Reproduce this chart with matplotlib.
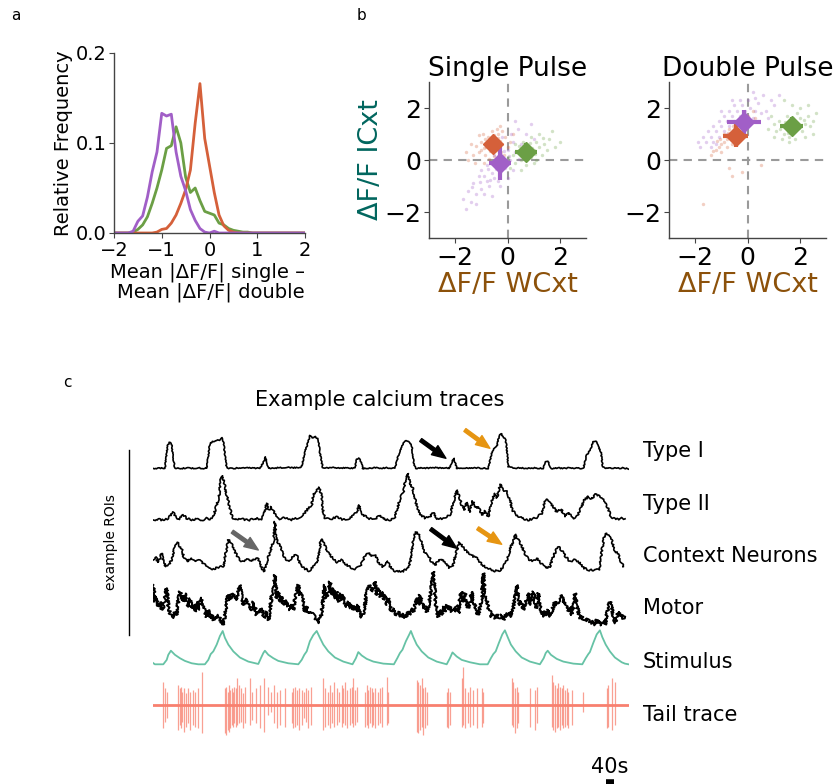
import numpy as np
import matplotlib
matplotlib.use("Agg")
import matplotlib.pyplot as plt

# ---------------------------------------------------------------- data
# (a) distribution of mean |dF/F| differences (single - double pulse)
hist_bins = [-2.0, -1.9, -1.8, -1.7, -1.6, -1.5, -1.4, -1.3, -1.2, -1.1, -1.0,
             -0.9, -0.8, -0.7, -0.6, -0.5, -0.4, -0.3, -0.2, -0.1, 0.0,
             0.1, 0.2, 0.3, 0.4, 0.5, 0.6, 0.7, 0.8, 0.9, 1.0,
             1.1, 1.2, 1.3, 1.4, 1.5, 1.6, 1.7, 1.8, 1.9, 2.0]
hist_orange = [0, 0, 0, 0, 0, 0, 0, 0, 0, 0.001, 0.004,
               0.005, 0.011, 0.020, 0.033, 0.048, 0.070, 0.122, 0.166, 0.105, 0.075,
               0.045, 0.020, 0.008, 0.003, 0.001, 0, 0, 0, 0, 0,
               0, 0, 0, 0, 0, 0, 0, 0, 0, 0]
hist_green = [0, 0, 0, 0, 0.001, 0.004, 0.009, 0.018, 0.033, 0.050, 0.070,
              0.094, 0.097, 0.118, 0.100, 0.062, 0.045, 0.050, 0.036, 0.024, 0.022,
              0.020, 0.011, 0.009, 0.005, 0.003, 0.002, 0.001, 0.001, 0, 0,
              0, 0, 0, 0, 0, 0, 0, 0, 0, 0]
hist_purple = [0, 0, 0, 0, 0.002, 0.013, 0.019, 0.040, 0.068, 0.090, 0.133,
               0.130, 0.132, 0.090, 0.063, 0.047, 0.026, 0.014, 0.005, 0.001, 0.0,
               0.002, 0, 0, 0, 0, 0, 0, 0, 0, 0,
               0, 0, 0, 0, 0, 0, 0, 0, 0, 0]

# (b) per-ROI responses (WCxt, ICxt) and group means +- spread
single_orange = [(-0.6, 0.6), (-0.5, 0.7), (-0.7, 0.5), (-0.4, 0.55), (-0.8, 0.65), (-0.55, 0.85),
                 (-0.65, 0.35), (-0.3, 0.75), (-0.9, 0.45), (-0.45, 0.4), (-1.0, 0.7), (-0.75, 0.9),
                 (-0.2, 0.6), (-0.35, 1.0), (-1.1, 0.3), (-0.6, 1.1), (-0.85, 0.2), (-0.25, 0.3),
                 (-1.2, 0.55), (-0.5, 0.15), (-0.1, 0.9), (-0.95, 1.0), (-1.3, 0.2), (-0.7, 0.05),
                 (0.0, 0.5), (-1.4, 0.6), (-0.4, 1.2), (-1.5, 0.0), (-0.15, 0.2), (-1.1, 0.95),
                 (-0.55, 0.5), (-0.65, 0.75), (-0.45, 0.65), (-0.75, 0.55), (-0.35, 0.45), (-0.85, 0.8),
                 (-0.5, 0.95), (-1.0, 0.4), (-0.2, 1.1), (0.1, 0.7), (-1.6, 0.3), (-1.25, -0.1),
                 (0.2, 1.0), (-0.3, 1.3), (-0.9, -0.1), (-0.62, 0.72), (-0.48, 0.58), (-0.72, 0.62),
                 (-0.58, 0.45), (-0.38, 0.85), (-0.82, 0.5)]
single_purple = [(-0.4, -0.2), (-0.2, 0.1), (-0.6, -0.5), (-0.8, -0.8), (-1.0, -1.1), (-1.2, -1.3),
                 (-1.4, -1.6), (-1.6, -1.9), (-1.3, -0.9), (-1.1, -0.6), (-0.9, -1.3), (-0.7, -1.0),
                 (-0.5, -0.7), (-0.3, -0.5), (-0.1, -0.3), (0.1, 0.0), (0.3, 0.3), (0.5, 0.6),
                 (0.7, 1.0), (0.4, 1.2), (0.2, 0.7), (0.0, 0.4), (-0.2, 0.9), (-0.5, 0.2),
                 (-0.8, -0.2), (-1.0, -0.4), (-1.5, -1.2), (-1.7, -1.5), (-1.2, -1.7), (-0.6, -1.4),
                 (-0.3, -1.0), (0.0, -0.7), (0.2, -0.4), (0.6, 0.2), (0.8, 0.5), (1.0, 0.8),
                 (0.9, 1.4), (0.3, 1.5), (-0.9, -0.6), (-0.45, -0.35), (-0.25, -0.05), (-0.65, -0.75),
                 (-1.05, -0.85), (-0.15, 0.35), (0.05, 0.15), (-0.35, -0.8), (-0.75, -0.35),
                 (-1.35, -1.05), (0.45, 0.05), (0.15, 1.0)]
single_green = [(0.8, 0.3), (0.6, 0.2), (1.0, 0.4), (0.7, 0.5), (0.9, 0.1), (1.2, 0.5), (0.5, 0.0),
                (1.1, 0.7), (1.4, 0.6), (0.4, 0.3), (0.3, -0.1), (1.3, 0.2), (1.6, 0.8), (0.6, 0.7),
                (0.9, 0.9), (0.2, 0.2), (1.5, 0.4), (0.7, -0.2), (1.0, -0.1), (1.8, 0.5), (0.1, -0.3),
                (1.2, 1.0), (0.45, 0.55), (0.85, 0.65), (1.05, 0.25), (0.65, 0.05), (1.35, 0.85),
                (0.0, 0.1), (1.7, 1.1), (0.3, 0.6), (2.0, 0.7), (0.5, -0.4), (1.1, 0.0), (0.95, 0.45),
                (0.75, 0.35)]
double_purple = [(-1.8, 0.5), (-1.6, 0.7), (-1.4, 0.9), (-1.2, 1.1), (-1.0, 1.3), (-0.8, 1.5),
                 (-0.6, 1.7), (-0.4, 1.9), (-0.2, 2.1), (0.0, 2.3), (0.3, 2.4), (0.6, 2.5), (0.9, 2.3),
                 (1.2, 2.5), (-1.5, 1.1), (-1.3, 1.3), (-1.1, 1.5), (-0.9, 1.7), (-0.7, 1.9),
                 (-0.5, 2.1), (-0.3, 2.3), (-1.7, 0.9), (-1.9, 0.7), (-1.3, 0.7), (-1.1, 0.9),
                 (-0.9, 1.1), (-0.7, 1.3), (-0.5, 1.5), (-0.3, 1.7), (-0.1, 1.9), (0.1, 2.0),
                 (0.3, 1.9), (0.5, 1.8), (0.7, 1.9), (0.4, 2.2), (-0.2, 1.4), (0.0, 1.6), (-0.8, 1.0),
                 (-1.4, 0.5), (-0.15, 1.2), (0.2, 1.6), (-0.6, 2.3), (-1.0, 1.9), (0.8, 1.6),
                 (-0.4, 1.1), (0.2, 2.6), (-1.2, 0.6), (1.0, 2.1), (-0.65, 1.45), (-0.35, 1.55)]
double_orange = [(-0.6, 1.0), (-0.5, 1.1), (-0.7, 0.9), (-0.4, 1.2), (-0.8, 0.8), (-0.9, 0.7),
                 (-1.0, 0.6), (-1.1, 0.5), (-1.2, 0.4), (-1.3, 0.35), (-0.3, 1.3), (-0.2, 1.4),
                 (-0.1, 1.6), (0.0, 1.7), (0.2, 1.9), (-0.5, 0.8), (-0.7, 1.2), (-0.8, 0.5),
                 (-0.4, 0.9), (-0.6, 0.6), (-0.3, 1.0), (-0.9, 1.0), (-1.0, 0.3), (-0.2, 1.1),
                 (0.1, 1.4), (-1.4, 0.2), (-0.55, 1.3), (-0.75, 1.05), (-0.45, 0.95), (-0.65, 0.85),
                 (-0.35, 1.15), (-0.85, 0.95), (-1.05, 0.8), (-0.15, 1.25), (0.05, 1.5),
                 (-1.15, 0.75), (-0.25, 1.55), (0.3, 1.6), (-0.7, -0.3), (-0.6, -0.6),
                 (-1.7, -1.7), (-0.2, -0.45), (0.5, -0.2)]
double_green = [(1.7, 1.3), (1.5, 1.2), (1.9, 1.4), (1.6, 1.5), (1.8, 1.1), (2.0, 1.6), (1.4, 1.0),
                (2.2, 1.4), (1.3, 1.3), (2.1, 1.1), (1.6, 0.9), (1.9, 1.8), (1.2, 1.5), (2.3, 1.7),
                (1.1, 1.1), (2.4, 1.3), (1.5, 1.7), (1.8, 0.8), (1.0, 1.4), (2.0, 2.0), (2.5, 1.5),
                (1.3, 0.8), (0.9, 1.7), (2.2, 0.9), (1.7, 2.1), (1.45, 1.45), (1.75, 1.55),
                (1.95, 1.25), (1.55, 1.05), (2.15, 1.55), (1.25, 1.2), (1.65, 1.15), (1.85, 1.35),
                (0.8, 1.2), (2.6, 1.8), (1.4, 2.3), (2.3, 2.1), (1.0, 0.9), (1.6, 0.7), (2.5, 1.0)]
# group means: (x, y, xerr, yerr)
single_means = {"orange": (-0.55, 0.6, 0.29, 0.32),
                "purple": (-0.28, -0.13, 0.43, 0.64),
                "green": (0.72, 0.32, 0.42, 0.32)}
double_means = {"orange": (-0.45, 0.94, 0.48, 0.43),
                "purple": (-0.13, 1.47, 0.66, 0.46),
                "green": (1.7, 1.3, 0.44, 0.34)}

# (c) example traces: (time s, dF/F in display units)
type1_trace = [(0, 0.3), (20, 0.0), (40, 0.4), (62, 0.0), (76, 23), (85, 26), (95, 25), (104, 10),
               (112, 0.3), (140, 0.0), (170, 0.5), (200, 0.2), (230, 0.6), (255, 0.1), (271, 0.0),
               (279, 13), (287, 25), (300, 27), (321, 28), (335, 28.5), (349, 30.5), (356, 26),
               (362, 13), (371, 0.5), (400, 0.0), (430, 0.6), (460, 0.3), (490, 0.8), (515, 0.2),
               (537, 0.3), (554, 6.5), (566, 11.5), (579, 0.2), (610, 0.5), (640, 0.8), (670, 1.2),
               (700, 0.7), (730, 1.0), (746, 1.7), (762, 16.7), (779, 26.7), (787, 33), (800, 31),
               (815, 32), (829, 29), (837, 16), (851, 1.0), (880, 0.5), (910, 0.9), (940, 0.3),
               (970, 0.8), (995, 0.4), (1012, 0.2), (1021, 9.3), (1032, 10), (1046, 6), (1051, 0.0),
               (1080, 0.4), (1110, 0.8), (1140, 0.3), (1170, 0.7), (1195, 0.4), (1212, 0.0),
               (1229, 12.7), (1246, 22.7), (1262, 27.7), (1275, 27), (1287, 26), (1296, 22.7),
               (1307, 4.3), (1317, 0.0), (1350, 0.6), (1380, 0.3), (1410, 0.9), (1440, 0.4),
               (1470, 0.5), (1484, 0.0), (1496, 6), (1507, 10.3), (1521, 0.0), (1550, 0.6),
               (1580, 0.2), (1610, 0.8), (1645, 0.3), (1679, 0.2), (1696, 15), (1712, 21),
               (1721, 21.7), (1732, 31.7), (1742, 35), (1754, 31.7), (1766, 28.3), (1774, 15),
               (1779, 1.7), (1810, 0.3), (1840, 0.7), (1870, 0.2), (1900, 0.6), (1930, 0.3),
               (1954, 0.2), (1966, 6.7), (1976, 7.7), (1987, 2.3), (1996, 0.0), (2030, 0.5),
               (2060, 0.2), (2090, 0.7), (2120, 0.3), (2154, 0.1), (2171, 13.3), (2187, 18.3),
               (2204, 26.7), (2216, 27.7), (2229, 21.7), (2242, 16.7), (2251, 1.7), (2262, 0.0),
               (2290, 0.6), (2320, 0.1), (2350, 0.5), (2380, -0.2)]
type2_trace = [(4, 0), (29, 0.7), (54, -0.3), (79, 1.7), (104, 7.7), (116, 2.3), (129, 0.3), (154, 5),
               (171, 1.7), (196, 0), (221, 1), (246, -0.3), (271, 1.7), (287.5, 1), (304, 3.3),
               (321, 15), (332.5, 23.3), (342.5, 41.7), (349, 44.3), (359, 36.7), (371, 25),
               (387.5, 11.7), (399, 2.3), (412.5, 0), (446, 1), (479, -0.3), (512.5, 1.7),
               (546, 0.7), (559, 6.7), (571, 16.7), (582.5, 10), (592.5, 13.3), (604, 9),
               (621, 4.3), (637.5, 1), (662.5, 2.3), (696, 0.3), (729, 2.3), (754, 5), (779, 11.7),
               (796, 15), (804, 25), (821, 30), (834, 32.3), (846, 23.3), (854, 8.3), (862.5, 1.7),
               (887.5, 0.7), (921, 3), (954, 0.3), (987.5, 1.7), (1021, 7.7), (1032.5, 15),
               (1042.5, 8.3), (1054, 5), (1079, 1.7), (1112.5, 0.3), (1137.5, 5), (1154, 1),
               (1187.5, 0), (1212.5, 3.3), (1229, 15), (1241, 23.3), (1254, 26.7), (1266, 41.7),
               (1276, 46.7), (1287.5, 36.7), (1301, 31.7), (1317.5, 16.7), (1334, 6.7),
               (1362.5, 1.7), (1387.5, 3.3), (1404, 7.7), (1421, 0.7), (1454, 1.7), (1487.5, 5),
               (1504, 16.7), (1521, 30), (1534, 23.3), (1546, 15), (1557.5, 10), (1571, 17.7),
               (1584, 7.7), (1601, 19), (1617.5, 11.7), (1629, 13.3), (1646, 5), (1662.5, 9),
               (1679, 3.3), (1696, 18.3), (1709, 26.7), (1722.5, 22.3), (1737.5, 35.7), (1754, 30),
               (1771, 28.3), (1787.5, 20), (1799, 10), (1816, 5.7), (1846, 1.7), (1879, 0),
               (1921, 2.3), (1946, 6.7), (1966, 21), (1982.5, 17.7), (2004, 13.3), (2021, 7.7),
               (2042.5, 11), (2062.5, 3.3), (2079, 7.7), (2099, 1.7), (2121, 3.3), (2142.5, 11.7),
               (2159, 20), (2179, 23.3), (2196, 21), (2216, 25.7), (2237.5, 24.3), (2259, 19),
               (2276, 12.3), (2292.5, 3.3), (2316, 0.3), (2346, 1.7), (2362.5, 1)]
context_trace = [(4, 8.3), (16, 11.7), (26, 6), (37.5, 10), (46, 15), (54, 6.7), (66, 1.7), (82.5, 3.3),
                 (99, 10), (112.5, 24), (124, 26), (134, 22.7), (146, 19.3), (157.5, 10), (174, 6.7),
                 (191, 10.7), (207.5, 7.3), (229, 9.3), (246, 6), (262.5, 3.3), (279, 0), (304, -0.7),
                 (329, 1), (354, 2), (366, 15), (379, 28.3), (392.5, 26), (404, 19.3), (416, 15),
                 (432.5, 9.3), (449, 6.7), (471, 9.3), (492.5, 6.7), (509, 9.3), (526, 10),
                 (542.5, 2.7), (556, -3.3), (569, 5), (582.5, 13.3), (596, 21.7), (606, 28.3),
                 (612.5, 46.7), (619, 30), (629, 25), (642.5, 20), (659, 11.7), (676, 7.3),
                 (692.5, 9.3), (709, 13.3), (726, 11.7), (739, 3.3), (759, 0), (782.5, -2.7),
                 (804, 1.7), (821, 5), (832.5, 15), (842.5, 29.3), (854, 26), (867.5, 20), (884, 14),
                 (904, 10), (924, 6), (946, 8.3), (967.5, 4), (991, 0.7), (1012.5, -0.7),
                 (1037.5, 1.7), (1054, 8.3), (1067.5, 15), (1081, 15.7), (1096, 12.7), (1112.5, 14),
                 (1129, 6), (1151, 1.7), (1174, 7.3), (1187.5, 1.7), (1207.5, -2.7), (1229, -3.3),
                 (1254, -2.7), (1279, 0), (1292.5, 10), (1304, 30), (1317.5, 36), (1334, 33.3),
                 (1346, 25), (1362.5, 15), (1379, 13.3), (1396, 6), (1412.5, 3.3), (1429, 7.3),
                 (1446, 9.3), (1462.5, 5), (1484, 0.7), (1501, 1.7), (1517.5, 15), (1534, 26),
                 (1546, 23.3), (1562.5, 18.3), (1584, 15), (1604, 11.7), (1624, 10), (1646, 4),
                 (1662.5, 1.7), (1687.5, -0.7), (1712.5, -2.7), (1737.5, -2), (1759, 3.3), (1776, 10),
                 (1789, 20), (1804, 27.3), (1816, 34), (1829, 28.3), (1846, 22.7), (1862.5, 14),
                 (1879, 9.3), (1899, 7.3), (1921, 10), (1942.5, 5), (1966, 0), (1987.5, 1.7),
                 (2004, 11.7), (2021, 19.3), (2032.5, 21.7), (2049, 16.7), (2066, 11.7),
                 (2087.5, 6.7), (2109, 8.3), (2132.5, 6), (2154, 0.7), (2179, -1.7), (2212.5, -2),
                 (2234, -0.7), (2246, 16.7), (2259, 31.7), (2271, 35), (2282.5, 31.7), (2296, 28.3),
                 (2312.5, 16.7), (2326, 15), (2342.5, 6.7), (2354, 1.7)]
# motor ROI, sampled every 25/3 s from t = 12.5/3 s
motor_dt = 25 / 3
motor_t0 = 12.5 / 3
motor_trace = [40, 23.3, 28.3, 18.3, 23.3, 15, 18.3, 26.7, 36.7, 18.3,
               11.7, 8.3, 8.3, 13.3, 10, 25, 33.3, 28.3, 23.3, 31.7,
               26.7, 18.3, 26.7, 16.7, 20, 13.3, 23.3, 15, 25, 26.7,
               18.3, 13.3, 8.3, 15, 6.7, 10, 5, 8.3, 6.7, 10,
               6.7, 1.7, 0, 10, 23.3, 30, 25, 31.7, 28.3, 30,
               25, 33.3, 40, 28.3, 20, 26.7, 23.3, 20, 18.3, 15,
               23.3, 18.3, 10, 15, 13.3, 16.7, 8.3, 6.7, 13.3, 5,
               13.3, 30, 33.3, 50, 26.7, 33.3, 23.3, 28.3, 20, 25,
               18.3, 21.7, 15, 20, 15, 26.7, 33.3, 40, 30, 31.7,
               21.7, 13.3, 18.3, 11.7,
               13.3, 11.7, 10, 7.3, 5, 1.7, 6.7, 11.7, 30, 40,
               26.7, 33.3, 43.3, 30, 36.7, 26.7, 33.3, 23.3, 31.7, 25,
               30, 21.7, 18.3, 23.3, 16.7, 20, 15, 18.3, 13.3, 20,
               10, 8.3, 11.7, 20, 33.3, 36.7, 40, 33.3, 35, 43.3,
               30, 36.7, 28.3, 33.3, 25, 30, 20, 26.7, 18.3, 13.3,
               16.7, 11.7, 10, 13.3, 8.3, 11.7, 6.7, 10, 8.3, 13.3,
               10, 16.7, 13.3, 20, 26.7, 20, 30, 23.3, 16.7, 20,
               13.3, 18.3, 26.7, 40, 53.3, 30, 13.3, 8.3, 15, 10,
               18.3, 13.3, 20, 15, 18.3, 13.3, 16.7, 13.3, 20, 11.7,
               26.7, 33.3, 23.3, 31.7, 20, 16.7, 23.3, 33.3, 20,
               20, 13.3, 10, 18.3, 26.7, 51.7, 30, 25, 16.7, 13.3,
               8.3, 10, 6.7, 10, 8.3, 6.7, 10, 5, 8.3, 11.7,
               10, 13.3, 8.3, 18.3, 26.7, 40, 26.7, 20, 23.3, 15,
               20, 25, 31.7, 20, 28.3, 33.3, 21.7, 16.7, 31.7, 18.3,
               13.3, 8.3, 13.3, 10, 15, 8.3, 13.3, 18.3, 23.3, 20,
               23.3, 26.7, 30, 21.7, 25, 18.3, 13.3, 18.3, 10, 18.3,
               31.7, 20, 13.3, 6.7, 8.3, 5, 6.7, 4, 5, 3.3,
               1.7, 3.3, 0, 5, 1.7, 3.3, 0, 5, 0, 10,
               18.3, 23.3, 18.3, 8.3, 1.7, 6.7, 13.3, 8.3, 10, 6.7, 8.3]
# stimulus intensity (normalised)
stimulus_trace = [(0, 0.05), (12, 0.0), (54, 0.0), (71, 0.13), (79, 0.28), (92, 0.40), (112, 0.28),
                  (137, 0.18), (162, 0.10), (196, 0.03), (229, 0.0), (262, 0.0), (279, 0.13),
                  (291, 0.30), (304, 0.38), (321, 0.58), (337, 0.83), (351, 0.98), (362, 0.78),
                  (379, 0.58), (404, 0.38), (437, 0.20), (479, 0.08), (529, 0.01), (542, 0.18),
                  (554, 0.33), (562, 0.40), (579, 0.28), (604, 0.18), (629, 0.10), (679, 0.03),
                  (729, 0.0), (746, 0.13), (759, 0.28), (771, 0.38), (787, 0.68), (804, 0.86),
                  (821, 0.98), (837, 0.78), (854, 0.58), (879, 0.38), (912, 0.20), (954, 0.08),
                  (1000, 0.0), (1017, 0.18), (1029, 0.36), (1046, 0.26), (1071, 0.16), (1104, 0.08),
                  (1154, 0.02), (1207, 0.0), (1224, 0.18), (1237, 0.33), (1250, 0.43), (1267, 0.68),
                  (1284, 0.88), (1292, 0.98), (1304, 0.80), (1321, 0.58), (1346, 0.38), (1379, 0.20),
                  (1421, 0.08), (1471, 0.0), (1487, 0.18), (1500, 0.35), (1521, 0.23), (1546, 0.13),
                  (1587, 0.06), (1637, 0.0), (1676, 0.0), (1692, 0.18), (1704, 0.30), (1716, 0.38),
                  (1732, 0.63), (1749, 0.88), (1762, 1.0), (1776, 0.80), (1792, 0.58), (1816, 0.38),
                  (1846, 0.20), (1887, 0.08), (1937, 0.0), (1956, 0.18), (1966, 0.33), (1976, 0.40),
                  (1992, 0.28), (2021, 0.16), (2054, 0.08), (2104, 0.02), (2149, 0.0), (2166, 0.18),
                  (2179, 0.30), (2187, 0.36), (2204, 0.63), (2221, 0.88), (2237, 1.0), (2249, 0.80),
                  (2266, 0.58), (2287, 0.38), (2312, 0.20), (2346, 0.06), (2362, 0.02), (2380, 0.0)]
# tail bouts: (time s, upward deflection, downward deflection)
tail_spikes = [(54, 23.3, 23.3), (62.5, 16.7, 16.7), (71, 13.3, 13.3), (129, 20, 25), (136, 16.7, 20),
               (142.5, 18.3, 23.3), (149, 13.3, 16.7), (156, 16.7, 26.7), (166, 11.7, 21.7),
               (176, 16.7, 18.3), (189, 13.3, 25), (204, 15, 20), (212.5, 13.3, 21.7),
               (226, 16.7, 23.3), (246, 33.3, 28.3), (362.5, 16.7, 28.3), (369, 18.3, 30),
               (376, 13.3, 25), (383, 20, 26.7), (389, 15, 23.3), (396, 16.7, 20), (402.5, 13.3, 21.7),
               (409, 18.3, 18.3), (416, 16.7, 21.7), (422.5, 26.7, 20), (432.5, 20, 18.3),
               (442.5, 16.7, 16.7), (452.5, 11.7, 23.3), (462.5, 18.3, 18.3), (487.5, 26.7, 20),
               (499, 13.3, 15), (516, 16.7, 18.3), (537.5, 20, 23.3), (556, 26.7, 26.7),
               (579, 18.3, 10), (592.5, 13.3, 6.7), (609, 20, 18.3), (622.5, 13.3, 23.3),
               (637.5, 15, 20), (662.5, 16.7, 21.7), (696, 13.3, 18.3), (704, 16.7, 23.3),
               (712.5, 18.3, 21.7), (721, 15, 20), (732.5, 16.7, 25), (746, 15, 20), (757.5, 13.3, 13.3),
               (767.5, 16.7, 16.7), (779, 15, 23.3), (791, 18.3, 20), (854, 26.7, 25),
               (862.5, 16.7, 21.7), (879, 13.3, 20), (887.5, 20, 23.3), (897.5, 13.3, 18.3),
               (907.5, 23.3, 21.7), (921, 16.7, 20), (931, 13.3, 16.7), (946, 20, 21.7),
               (954, 16.7, 18.3), (964, 23.3, 20), (974, 15, 23.3), (987.5, 16.7, 20),
               (996, 18.3, 18.3), (1004, 26.7, 21.7), (1012.5, 15, 20), (1021, 18.3, 16.7),
               (1062.5, 13.3, 21.7), (1071, 20, 20), (1079, 15, 23.3), (1087.5, 18.3, 18.3),
               (1096, 16.7, 21.7), (1104, 13.3, 20), (1112.5, 16.7, 23.3), (1129, 13.3, 20),
               (1137.5, 16.7, 18.3), (1146, 18.3, 21.7), (1171, 28.3, 20), (1179, 13.3, 18.3),
               (1321, 25, 26.7), (1329, 23.3, 28.3), (1337.5, 20, 25), (1346, 26.7, 21.7),
               (1354, 16.7, 30), (1362.5, 18.3, 23.3), (1371, 13.3, 20), (1471, 13.3, 21.7),
               (1479, 16.7, 23.3), (1487.5, 13.3, 20), (1546, 26.7, 21.7), (1554, 38.3, 20),
               (1562.5, 16.7, 23.3), (1579, 13.3, 18.3), (1587.5, 18.3, 21.7), (1604, 15, 20),
               (1621, 16.7, 23.3), (1646, 16.7, 21.7), (1654, 13.3, 18.3), (1796, 26.7, 20),
               (1804, 23.3, 21.7), (1812.5, 16.7, 28.3), (1821, 18.3, 23.3), (1829, 13.3, 18.3),
               (1887.5, 16.7, 21.7), (1912.5, 15, 25), (1921, 18.3, 18.3), (1996, 30, 21.7),
               (2004, 23.3, 25), (2012.5, 20, 26.7), (2021, 16.7, 23.3), (2029, 21.7, 21.7),
               (2037.5, 18.3, 25), (2046, 16.7, 20), (2054, 20, 23.3), (2062.5, 15, 21.7),
               (2071, 16.7, 20), (2079, 13.3, 23.3), (2096, 15, 20), (2154, 13.3, 6.7),
               (2271, 16.7, 23.3), (2279, 20, 21.7), (2296, 26.7, 25), (2312.5, 23.3, 20)]

trace_names = ["Type I", "Type II", "Context Neurons", "Motor", "Stimulus", "Tail trace"]
scale_bar_s = 40

# ---------------------------------------------------------------- style
C_ORANGE = "#d5603a"
C_PURPLE = "#a15fc7"
C_GREEN = "#6b9f45"
C_TEAL = "#01665e"
C_BROWN = "#8c510a"
C_STIM = "#66c2a5"
C_TAIL = "#f8806f"
C_SPINE = "#444444"

W, H = 839, 784
fig = plt.figure(figsize=(W / 100, H / 100), dpi=100)


def px_axes(x0, y0, x1, y1):
    return fig.add_axes([x0 / W, 1 - y1 / H, (x1 - x0) / W, (y1 - y0) / H])


def style_axes(ax, size):
    for s in ("top", "right"):
        ax.spines[s].set_visible(False)
    for s in ("left", "bottom"):
        ax.spines[s].set_color(C_SPINE)
        ax.spines[s].set_linewidth(1.0)
    ax.tick_params(labelsize=size, length=3.5, width=0.8, color=C_SPINE, pad=2)


# ---------------------------------------------------------------- panel a
ax_a = px_axes(114, 53, 305, 233)
ax_a.plot(hist_bins, hist_green, color=C_GREEN, lw=2)
ax_a.plot(hist_bins, hist_orange, color=C_ORANGE, lw=2)
ax_a.plot(hist_bins, hist_purple, color=C_PURPLE, lw=2)
ax_a.set_xlim(-2, 2)
ax_a.set_ylim(0, 0.2)
ax_a.set_xticks([-2, -1, 0, 1, 2])
ax_a.set_yticks([0, 0.1, 0.2])
ax_a.set_yticklabels(["0.0", "0.1", "0.2"])
style_axes(ax_a, 14)
ax_a.set_ylabel("Relative Frequency", fontsize=14, labelpad=2)
ax_a.set_xlabel("Mean |ΔF/F| single –\nMean |ΔF/F| double", fontsize=14,
                ha="right", x=1.0, multialignment="right", labelpad=2, linespacing=1.05)

# ---------------------------------------------------------------- panel b
clouds = {
    "Single Pulse": ([single_orange, single_purple, single_green], single_means),
    "Double Pulse": ([double_purple, double_orange, double_green], double_means),
}
cloud_colors = {"Single Pulse": [C_ORANGE, C_PURPLE, C_GREEN],
                "Double Pulse": [C_PURPLE, C_ORANGE, C_GREEN]}
mean_colors = {"orange": C_ORANGE, "purple": C_PURPLE, "green": C_GREEN}

for (x0, x1), title in zip([(429, 586), (669, 826)], ["Single Pulse", "Double Pulse"]):
    ax = px_axes(x0, 82, x1, 238)
    pts_sets, means = clouds[title]
    ax.axhline(0, color="#9a9a9a", lw=1.5, ls=(0, (4, 3)), zorder=1)
    ax.axvline(0, color="#9a9a9a", lw=1.5, ls=(0, (4, 3)), zorder=1)
    for pts, col in zip(pts_sets, cloud_colors[title]):
        xy = np.array(pts)
        ax.scatter(xy[:, 0], xy[:, 1], s=6, color=col, alpha=0.3, lw=0, zorder=2)
    for key in ("orange", "green", "purple"):
        mx, my, ex, ey = means[key]
        ax.errorbar(mx, my, xerr=ex, yerr=ey, fmt="D", ms=10, color=mean_colors[key],
                    elinewidth=3, capsize=0, zorder=4)
    ax.set_xlim(-3, 3)
    ax.set_ylim(-3, 3)
    ax.set_xticks([-2, 0, 2])
    ax.set_yticks([-2, 0, 2])
    style_axes(ax, 18)
    ax.set_title(title, fontsize=19, pad=3)
    ax.set_xlabel("ΔF/F WCxt", fontsize=19.5, color=C_BROWN, labelpad=2)
    if title == "Single Pulse":
        ax.set_ylabel("ΔF/F ICxt", fontsize=19.5, color=C_TEAL, labelpad=0)

# ---------------------------------------------------------------- panel c
ax_c = px_axes(152.5, 425, 628.5, 784)
ax_c.set_xlim(0, 2380)
ax_c.set_ylim(784, 425)
ax_c.axis("off")

baselines = {"Type I": 468.5, "Type II": 520, "Context Neurons": 568.3,
             "Motor": 625, "Stimulus": 664.3, "Tail trace": 705}
label_y = {"Type I": 451, "Type II": 504, "Context Neurons": 556, "Motor": 608,
           "Stimulus": 661.7, "Tail trace": 715}

for name, trace, jitter in [("Type I", type1_trace, 0.5),
                            ("Type II", type2_trace, 0.9),
                            ("Context Neurons", context_trace, 0.9)]:
    tt, vv = np.array(trace).T
    ln, = ax_c.plot(tt, baselines[name] - vv, color="black", lw=1.2)
    ln.set_sketch_params(jitter, 3, 4)

motor_time = motor_t0 + motor_dt * np.arange(len(motor_trace))
ln, = ax_c.plot(motor_time, baselines["Motor"] - np.array(motor_trace), color="black", lw=1.4)
ln.set_sketch_params(1.4, 2, 4)

st, sv = np.array(stimulus_trace).T
ax_c.plot(st, baselines["Stimulus"] - 34 * sv, color=C_STIM, lw=1.3)

sp = np.array(tail_spikes)
ax_c.vlines(sp[:, 0], baselines["Tail trace"] - sp[:, 1], baselines["Tail trace"] + sp[:, 2],
            color=C_TAIL, lw=0.9, alpha=0.75)
ax_c.plot([0, 2380], [baselines["Tail trace"]] * 2, color=C_TAIL, lw=2.0)

# arrows marking context-dependent responses
arrow_specs = [((399, 531.7), (529, 550), "#666666"),
               ((1341, 440), (1467, 458.3), "black"),
               ((1391, 529), (1521, 548.3), "black"),
               ((1562, 430), (1687, 448.3), "#e69512"),
               ((1626, 528.3), (1746, 544.3), "#e69512")]
for tail, tip, col in arrow_specs:
    ax_c.annotate("", xy=tip, xytext=tail,
                  arrowprops=dict(arrowstyle="simple,head_width=0.8,head_length=1.0,tail_width=0.25",
                                  mutation_scale=10, color=col, shrinkA=0, shrinkB=0))

# row labels
for name in trace_names:
    fig.text(643 / W, 1 - label_y[name] / H, name, fontsize=15, va="center", ha="left")

# ROI bracket
ax_c.plot([-120, -120], [450, 635], color="black", lw=1.0, clip_on=False)
ax_c.text(-210, 542, "example ROIs", rotation=90, fontsize=10, va="center", ha="center")

# scale bar
ax_c.plot([2265, 2265 + scale_bar_s], [782, 782], color="black", lw=4,
          solid_capstyle="butt", clip_on=False)
ax_c.text(2285, 767, f"{scale_bar_s}s", fontsize=15, ha="center", va="center")

fig.text(380 / W, 1 - 400 / H, "Example calcium traces", fontsize=15, ha="center", va="center")

# panel letters
fig.text(16 / W, 1 - 16 / H, "a", fontsize=11, ha="center", va="center")
fig.text(362 / W, 1 - 16 / H, "b", fontsize=11, ha="center", va="center")
fig.text(67 / W, 1 - 383 / H, "c", fontsize=11, ha="center", va="center")

fig.savefig("out.png", dpi=100)
